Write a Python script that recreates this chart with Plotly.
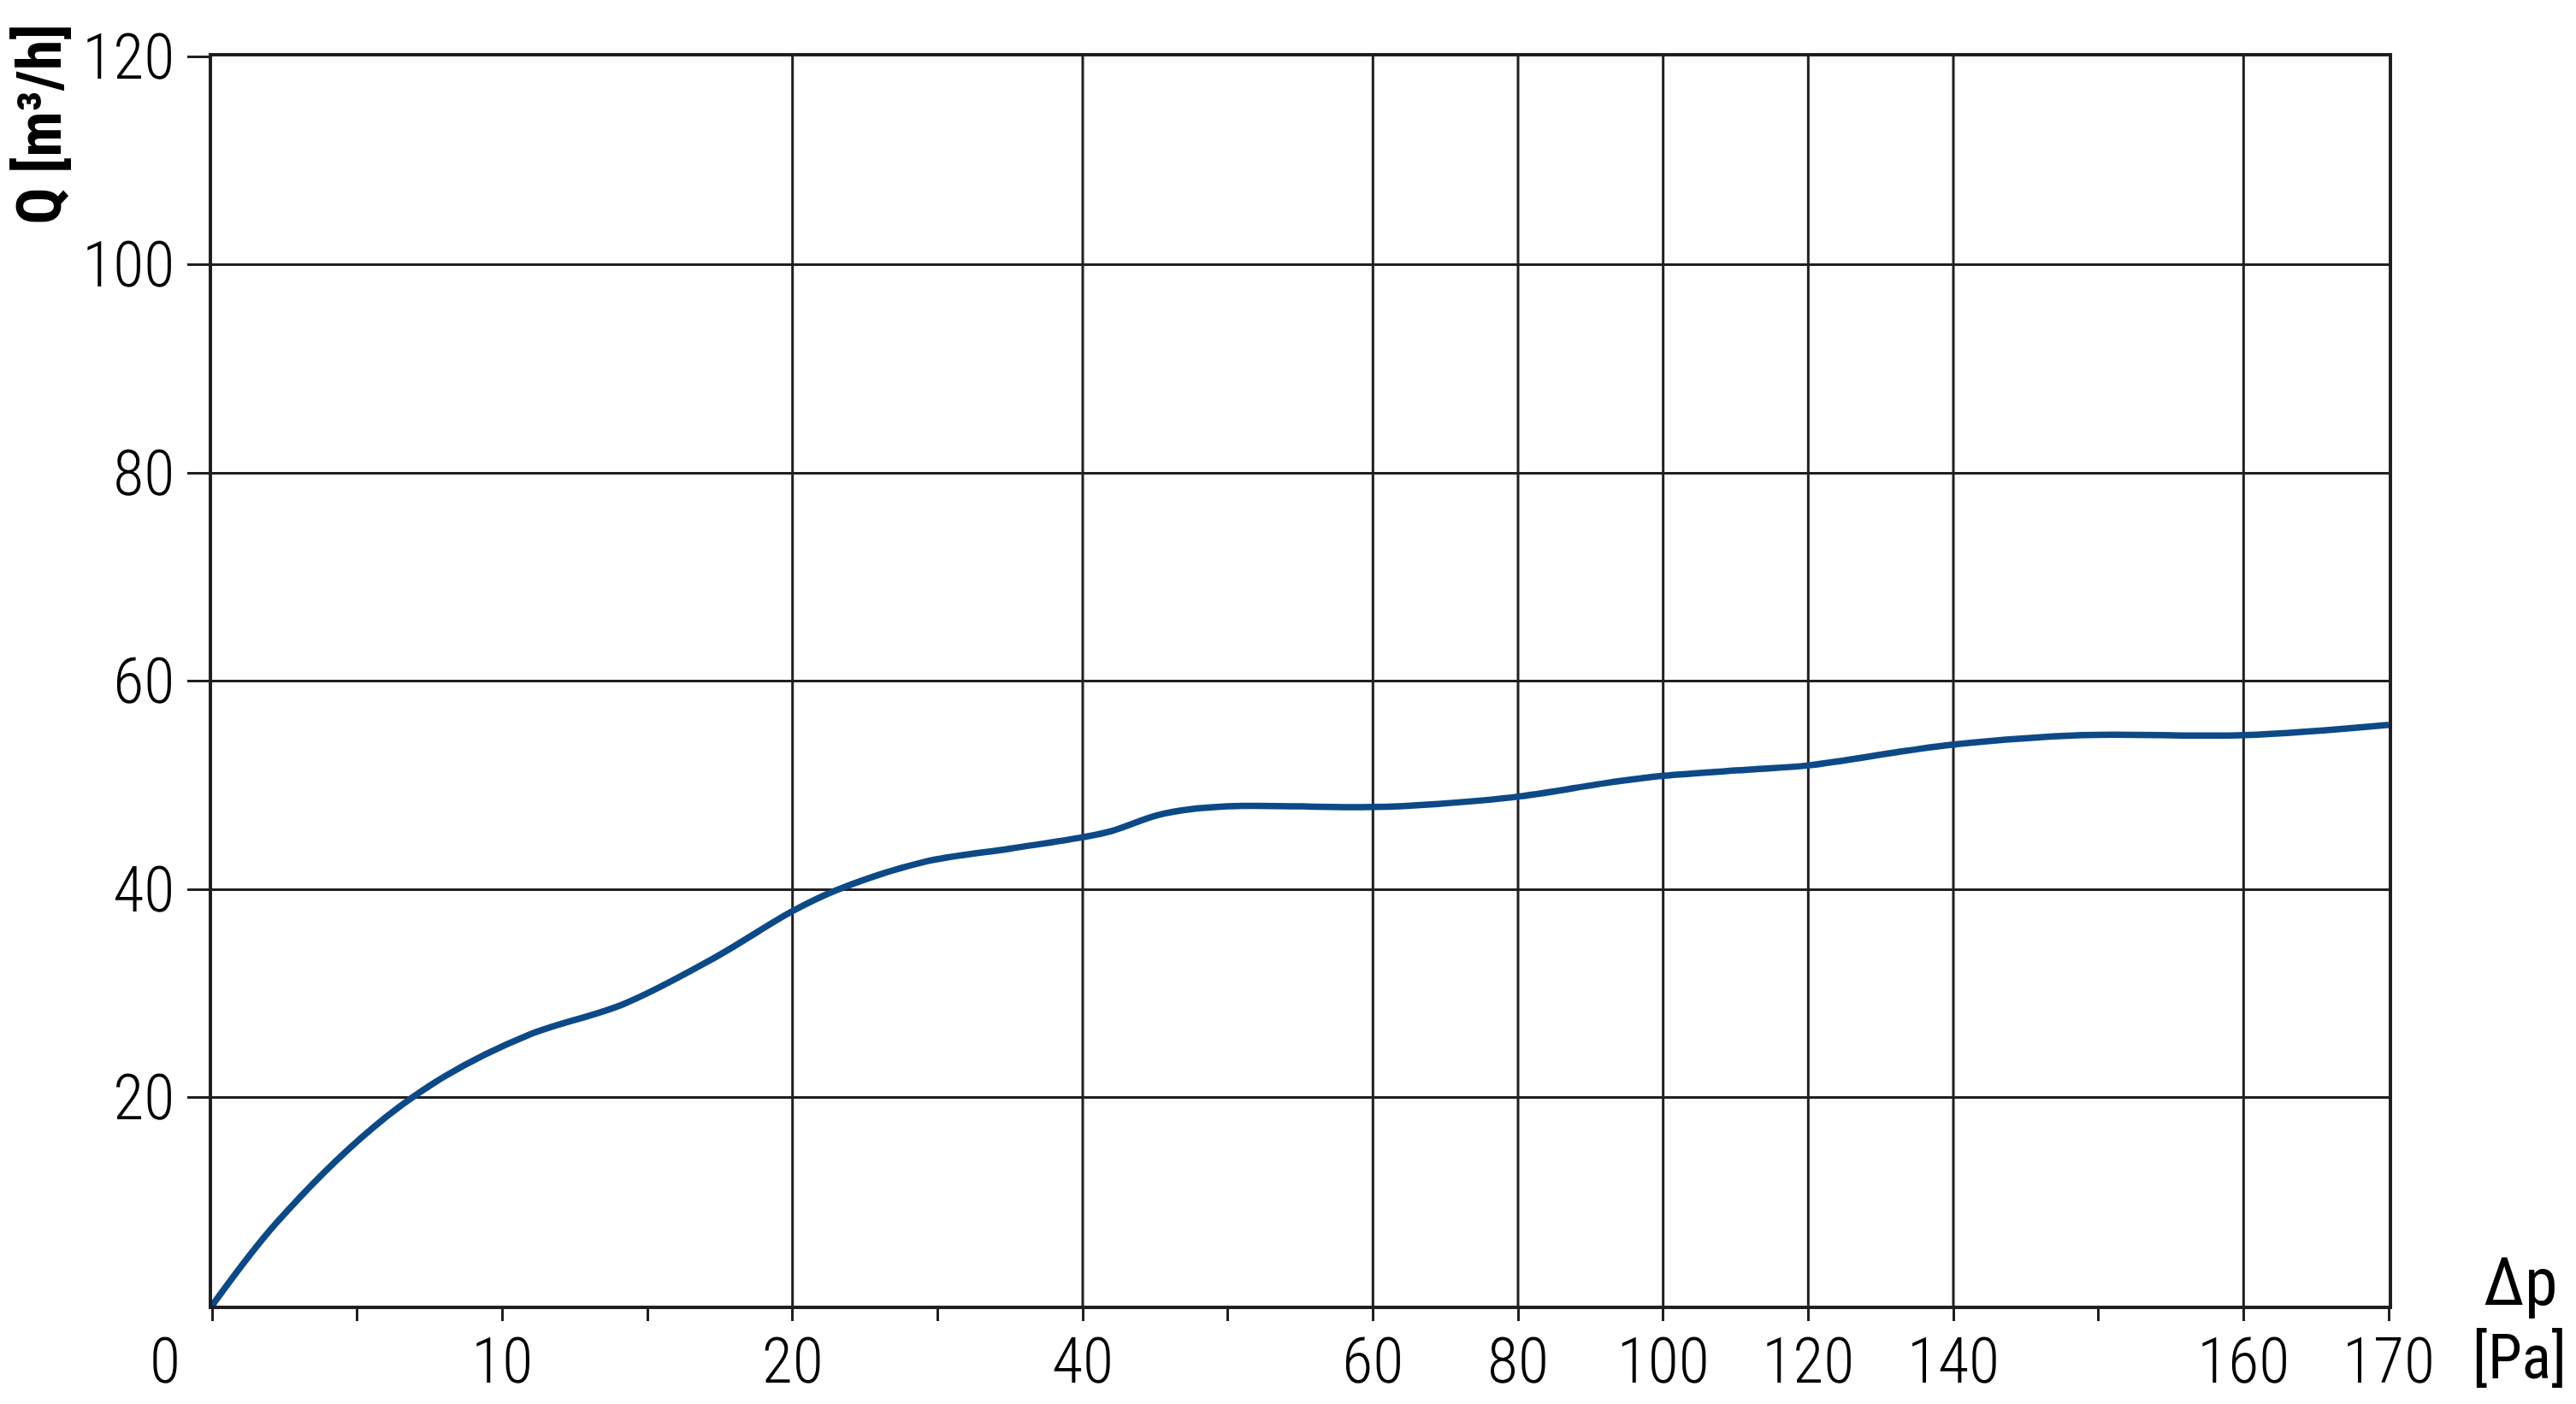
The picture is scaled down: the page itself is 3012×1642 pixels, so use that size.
import numpy as np
import plotly.graph_objects as go

# --- data ---
dp_pa = [0, 2.2, 5.5, 8.0, 10.9, 14.2, 17.3, 20, 23, 29, 35, 40, 42, 45.1,
         47.5, 51, 60, 69, 80, 93, 100, 112, 120, 133.5, 140, 148.8, 160, 170]
q_m3h = [0, 7.9, 17.0, 22.0, 26.0, 29.0, 33.4, 37.9, 39.9, 42.6, 43.9, 45.0, 45.6, 47.1,
         47.7, 48.0, 47.9, 48.2, 48.9, 50.3, 50.9, 51.5, 51.9, 53.3, 53.9, 54.8, 54.8, 55.8]

# the pressure axis is drawn piecewise: each of these ticks sits one step apart
scale_pa = [0, 5, 10, 15, 20, 30, 40, 50, 60, 80, 100, 120, 140, 150, 160, 170]
label_pa = [10, 20, 40, 60, 80, 100, 120, 140, 160, 170]
minor_pa = [5, 15, 30, 50, 150]
grid_pa = [20, 40, 60, 80, 100, 120, 140, 160]
q_ticks = [20, 40, 60, 80, 100, 120]

STYLE = {
    'ink': '#231f20',
    'curve': '#0d4987',
    'font_light': "Roboto Condensed Light, Roboto Condensed, sans-serif",
    'font': "Roboto Condensed, sans-serif",
}


def pa_to_pos(v):
    return np.interp(v, scale_pa, np.arange(len(scale_pa)))


fig = go.Figure()

fig.add_trace(go.Scatter(
    x=pa_to_pos(dp_pa), y=q_m3h, mode='lines',
    line=dict(color=STYLE['curve'], width=7.5, shape='spline', smoothing=1.0),
    showlegend=False, hoverinfo='skip',
))

# vertical grid only at some ticks
for v in grid_pa:
    fig.add_shape(type='line', xref='x', yref='y', x0=pa_to_pos(v), x1=pa_to_pos(v),
                  y0=0, y1=120, line=dict(color=STYLE['ink'], width=3), layer='below')

tick_font = dict(family=STYLE['font_light'], size=74, color='#000000')

fig.update_layout(
    width=2996, height=1626,
    margin=dict(l=240, r=211, t=58, b=107),
    paper_bgcolor='white', plot_bgcolor='white',
    xaxis=dict(
        range=[0, len(scale_pa) - 1],
        tickmode='array',
        tickvals=[0] + list(pa_to_pos(label_pa)),
        ticktext=[''] + [str(v) for v in label_pa],
        ticks='outside', ticklen=14, tickwidth=3, tickcolor=STYLE['ink'],
        ticklabelstandoff=-17,
        minor=dict(tickmode='array', tickvals=list(pa_to_pos(minor_pa)), ticks='outside',
                   ticklen=14, tickwidth=3, tickcolor=STYLE['ink'], showgrid=False),
        showgrid=False, zeroline=False, automargin=False,
        showline=True, linecolor=STYLE['ink'], linewidth=4, mirror=True,
        tickfont=tick_font,
    ),
    yaxis=dict(
        range=[0, 120],
        tickmode='array', tickvals=q_ticks,
        ticks='outside', ticklen=25, tickwidth=3, tickcolor=STYLE['ink'],
        ticklabelstandoff=0,
        showgrid=True, gridcolor=STYLE['ink'], gridwidth=3, zeroline=False, automargin=False,
        showline=True, linecolor=STYLE['ink'], linewidth=4, mirror=True,
        tickfont=tick_font,
    ),
    annotations=[
        dict(text='0', xref='x', yref='paper', x=0, y=0, xanchor='center', yanchor='top',
             xshift=-55, yshift=-19, showarrow=False, font=tick_font),
        dict(text='Q [m³/h]', xref='paper', yref='paper', x=-0.079, y=0.946,
             xanchor='center', yanchor='middle', textangle=-90, showarrow=False,
             font=dict(family=STYLE['font'], size=72, color='#000000', weight='bold')),
        dict(text='Δp', xref='paper', yref='paper', x=1, y=0, xanchor='center', yanchor='bottom',
             xshift=154, yshift=-20, showarrow=False,
             font=dict(family=STYLE['font'], size=78, color='#000000')),
        dict(text='[Pa]', xref='paper', yref='paper', x=1, y=0, xanchor='center', yanchor='top',
             xshift=153, yshift=-16, showarrow=False,
             font=dict(family=STYLE['font'], size=72, color='#000000')),
    ],
)

fig.write_html("out.html")
